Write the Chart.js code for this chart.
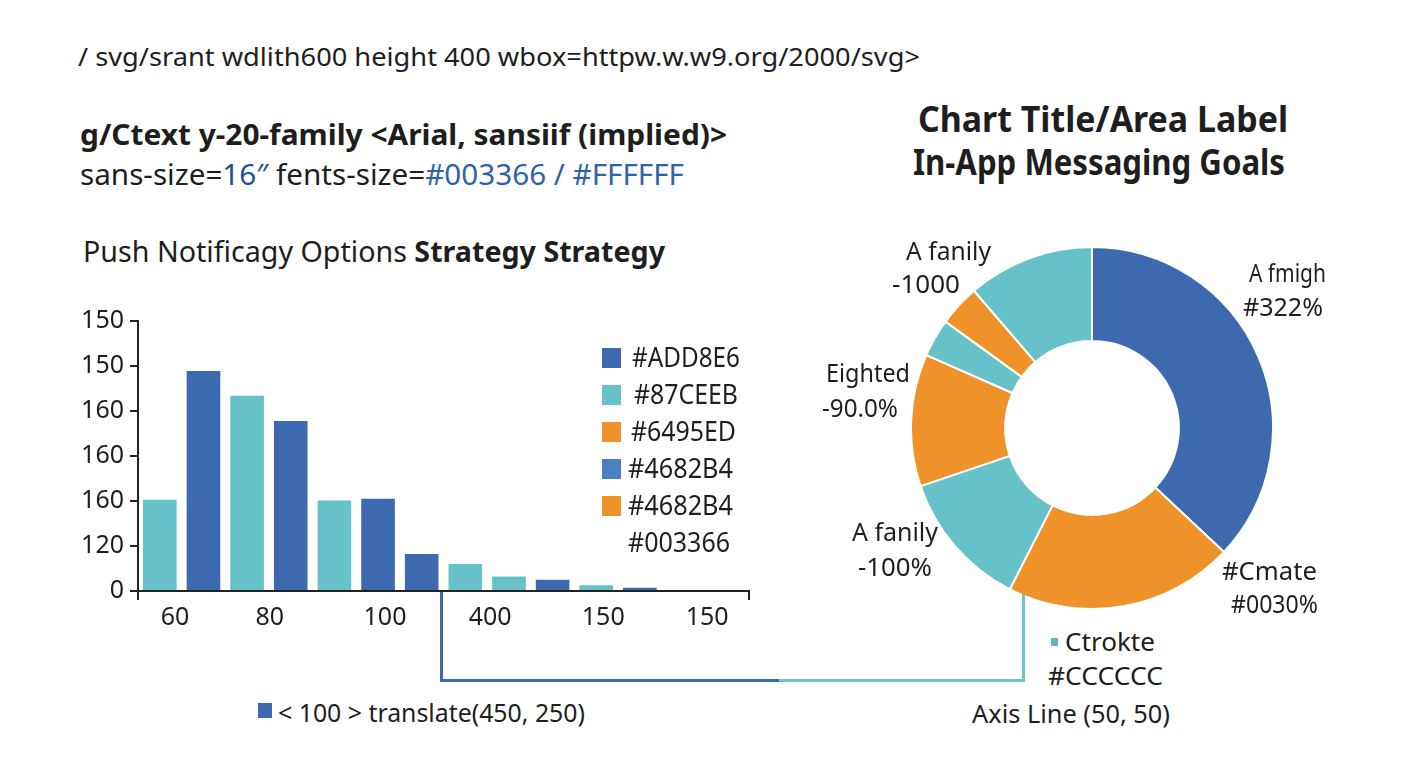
<!DOCTYPE html>
<html>
<head>
<meta charset="utf-8">
<script src="https://cdn.jsdelivr.net/npm/chart.js@4.4.0/dist/chart.umd.min.js"></script>
<style>
  body { margin: 0; background: #fff; width: 1408px; height: 768px; overflow: hidden; position: relative; font-family: "Noto Sans", sans-serif; color: #1e1e1e; }
  .t { position: absolute; white-space: nowrap; line-height: 1.2; transform-origin: left center; }
  .b { font-weight: bold; }
  .box { position: absolute; }
  .ln { position: absolute; }
</style>
</head>
<body>
<div class="box" style="left:40px;top:300px;width:725px;height:340px;"><canvas id="barChart"></canvas></div>
<div class="box" style="left:910px;top:246px;width:364px;height:364px;"><canvas id="pieChart"></canvas></div>
<div id="legend"></div>
<div id="texts"></div>

<!-- connector lines -->
<div class="ln" style="left:440px;top:592px;width:3px;height:90px;background:#3d6aaf;"></div>
<div class="ln" style="left:440px;top:679px;width:339px;height:3px;background:#3d6aaf;"></div>
<div class="ln" style="left:779px;top:679px;width:246px;height:3px;background:#6cc3c9;"></div>
<div class="ln" style="left:1022px;top:594px;width:3px;height:88px;background:#6cc3c9;"></div>
<div class="ln" style="left:1051px;top:638px;width:7px;height:8px;background:#5fb4c0;"></div>
<div class="ln" style="left:258px;top:703px;width:14px;height:15px;background:#3d6aaf;"></div>

<script>
// bar chart data
const barCategories = ["1","2","3","4","5","6","7","8","9","10","11","12","13","14"];
const barValues = [2.03, 4.89, 4.34, 3.78, 2.01, 2.05, 0.82, 0.60, 0.32, 0.25, 0.13, 0.07, 0, 0];
const barColors = ["#67c1c8","#3d6aaf","#67c1c8","#3d6aaf","#67c1c8","#3d6aaf","#3d6aaf",
                   "#67c1c8","#67c1c8","#3d6aaf","#67c1c8","#3d6aaf","#3d6aaf","#67c1c8"];
const yTickLabels = ["0", "120", "160", "160", "160", "150", "150"];
const xTickLabels = ["", "60", "80", "100", "400", "150", "150", ""];
const xTickSlots = [0, 0.85, 3.02, 5.66, 8.07, 10.66, 13.04, 14];

// legend
const legendLabels = ["#ADD8E6", "#87CEEB", "#6495ED", "#4682B4", "#4682B4", "#003366"];
const legendColors = ["#3d6aaf", "#67c1c8", "#f0922a", "#4a80c0", "#f0922a", null];

// doughnut data
const pieLabels = ["A fmigh", "#Cmate", "A fanily", "Eighted", "small teal", "small orange", "A fanily"];
const pieValues = [37, 20.5, 12.3, 11.8, 3.4, 3.7, 11.3];
const pieColors = ["#3d6aaf", "#f0922a", "#67c1c8", "#f0922a", "#67c1c8", "#f0922a", "#67c1c8"];

const tickFont = { family: "Noto Sans", size: 25 };

new Chart(document.getElementById("barChart"), {
  type: "bar",
  data: {
    labels: barCategories,
    datasets: [{ data: barValues, backgroundColor: barColors, categoryPercentage: 1, barPercentage: 0.77 }]
  },
  options: {
    responsive: true, maintainAspectRatio: false, animation: false,
    layout: { padding: { right: 16, top: 4 } },
    plugins: { legend: { display: false }, tooltip: { enabled: false } },
    scales: {
      x: { display: false, offset: true },
      x2: {
        type: "linear", position: "bottom", min: 0, max: 14, offset: false,
        border: { color: "#222", width: 2 },
        grid: { offset: false, drawOnChartArea: false, tickLength: 9, lineWidth: 2,
                color: ctx => (ctx.index === 0 || ctx.index === xTickSlots.length - 1) ? "#222" : "rgba(0,0,0,0)" },
        afterBuildTicks: s => { s.ticks = xTickSlots.map(v => ({ value: v })); },
        afterFit: s => { s.height = 49; },
        ticks: { color: "#1e1e1e", font: tickFont, padding: 3, autoSkip: false, maxRotation: 0,
                 callback: (v, i) => xTickLabels[i] }
      },
      y: {
        min: 0, max: 6,
        border: { color: "#222", width: 2 },
        grid: { drawOnChartArea: false, tickLength: 8, color: "#222", lineWidth: 2 },
        afterFit: s => { s.width = 98; },
        ticks: { stepSize: 1, color: "#1e1e1e", font: tickFont, padding: 6,
                 callback: (v, i) => yTickLabels[i] }
      }
    }
  }
});

new Chart(document.getElementById("pieChart"), {
  type: "doughnut",
  data: {
    labels: pieLabels,
    datasets: [{ data: pieValues, backgroundColor: pieColors, borderColor: "#fff", borderWidth: 2 }]
  },
  options: {
    responsive: true, maintainAspectRatio: false, animation: false, cutout: "48%",
    plugins: { legend: { display: false }, tooltip: { enabled: false } }
  }
});

function addText(html, x, cy, size, w, cls, parent) {
  const d = document.createElement("div");
  d.className = "t " + (cls || "");
  d.style.left = x + "px";
  d.style.top = (cy - size * 0.62) + "px";
  d.style.fontSize = size + "px";
  d.dataset.w = w;
  d.innerHTML = html;
  (parent || document.getElementById("texts")).appendChild(d);
}

// legend build
const lg = document.getElementById("legend");
const legendY = [358, 395, 432, 469, 506, 543];
const legendX = [632, 634, 631, 628, 628, 628];
const legendW = [108, 104, 105, 105, 105, 102];
legendLabels.forEach((lab, i) => {
  if (legendColors[i]) {
    const sq = document.createElement("div");
    sq.className = "ln";
    sq.style.cssText = `left:602px;top:${legendY[i] - 10}px;width:19px;height:20px;background:${legendColors[i]};`;
    lg.appendChild(sq);
  }
  addText(lab, legendX[i], legendY[i], 27, legendW[i], "", lg);
});

addText("/ svg/srant wdlith600 height 400 wbox=httpw.w.w9.org/2000/svg&gt;", 78, 57, 26, 842);
addText("g/Ctext y-20-family &lt;Arial, sansiif (implied)&gt;", 80, 135, 29, 647, "b");
addText('sans-size=<span style="color:#1f4e8c">16″</span> fents-size=<span style="color:#2e63a8">#003366 / #FFFFFF</span>', 80, 175, 29, 604);
addText('Push Notificagy Options <b>Strategy Strategy</b>', 83, 252, 29, 582);
addText("Chart Title/Area Label", 918, 120, 35, 370, "b");
addText("In-App Messaging Goals", 913, 163, 35, 372, "b");

addText("A fmigh", 1249, 272, 25, 77);
addText("#322%", 1243, 306, 25, 80);
addText("A fanily", 906, 250, 25, 85);
addText("-1000", 892, 283, 25, 68);
addText("Eighted", 826, 372, 25, 84);
addText("-90.0%", 822, 407, 25, 76);
addText("A fanily", 852, 531, 25, 86);
addText("-100%", 858, 566, 25, 74);
addText("#Cmate", 1222, 570, 25, 95);
addText("#0030%", 1231, 603, 25, 87);
addText("Ctrokte", 1065, 641, 25, 90);
addText("#CCCCCC", 1048, 675, 25, 115);
addText("Axis Line (50, 50)", 972, 713, 25, 198);
addText("&lt; 100 &gt; translate(450, 250)", 278, 712, 25, 307);

function fit() {
  document.querySelectorAll(".t").forEach(d => {
    const a = d.getBoundingClientRect().width;
    if (a > 0) d.style.transform = `scaleX(${d.dataset.w / a})`;
  });
}
document.fonts.ready.then(fit);
</script>
</body>
</html>
